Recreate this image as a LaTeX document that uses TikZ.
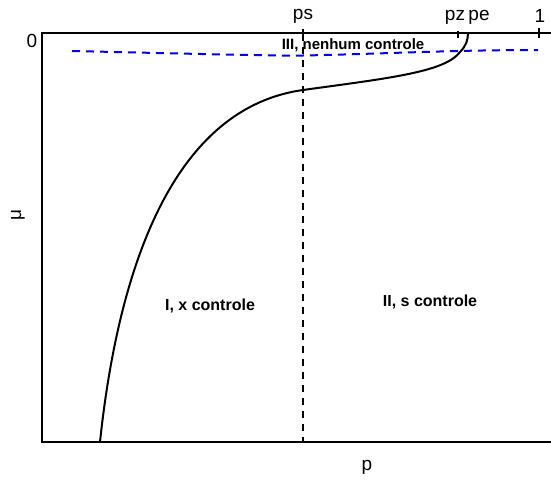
\documentclass[tikz,border=0pt]{standalone}
\usepackage{fontspec}
\setmainfont{Liberation Sans}
\begin{document}
\begin{tikzpicture}[x=1pt,y=-1pt,
  axis/.style={line width=1.2pt},
  ticklab/.style={font=\fontsize{19}{22}\selectfont, inner sep=0pt},
  region/.style={font=\bfseries\fontsize{16}{19}\selectfont, inner sep=0pt},
  region small/.style={font=\bfseries\fontsize{15}{18}\selectfont, inner sep=0pt},
  tickmark/.style={line width=1.2pt},
  curve/.style={line width=2pt},
  blue dash/.style={blue, line width=2pt, dash pattern=on 8pt off 6pt},
  black dash/.style={line width=2pt, dash pattern=on 7pt off 6pt}]
\useasboundingbox (0,0) rectangle (551,479);
% axes
\coordinate (tl) at (42,33);
\coordinate (bl) at (42,442);
\coordinate (tr) at (551,33);
\coordinate (br) at (551,442);
\draw[axis] (tr) -- (tl) -- (bl) -- (br);
% ticks
\coordinate (psT) at (303,29); \coordinate (psB) at (303,37);
\coordinate (pzT) at (458,31); \coordinate (pzB) at (458,38);
\coordinate (oneT) at (539,28); \coordinate (oneB) at (539,38);
\draw[tickmark] (psT) -- (psB);
\draw[tickmark] (pzT) -- (pzB);
\draw[tickmark] (oneT) -- (oneB);
% labels
\node[ticklab] (zero) at (32,41) {0};
\node[ticklab, rotate=90] (mu) at (18,215) {μ};
\node[ticklab] (p) at (367,467) {p};
\node[ticklab] (ps) at (303,16) {ps};
\node[ticklab] (pz) at (455,17) {pz};
\node[ticklab] (pe) at (479,17) {pe};
\node[ticklab] (one) at (540,16) {1};
\node[region small] (r3) at (353,45) {III, nenhum controle};
\node[region] (r1) at (210,306) {I, x controle};
\node[region] (r2) at (430,302) {II, s controle};
% dashed lines
\coordinate (bs) at (72,51);
\coordinate (be) at (538,50);
\draw[blue dash] (bs) .. controls (200,54) and (280,56) .. (303,55.5) .. controls (380,54) and (450,50) .. (be);
\coordinate (vs) at (303,34);
\coordinate (ve) at (303,442);
\draw[black dash] (vs) -- (ve);
% boundary curve
\coordinate (c0) at (100,442);
\coordinate (cm) at (303,90);
\coordinate (cz) at (460,52);
\coordinate (ce) at (468,33);
\draw[curve] (c0) .. controls (115,300) and (160,110) .. (cm)
  .. controls (390,78) and (445,72) .. (cz)
  .. controls (466,46) and (468,40) .. (ce);
\end{tikzpicture}
\end{document}
